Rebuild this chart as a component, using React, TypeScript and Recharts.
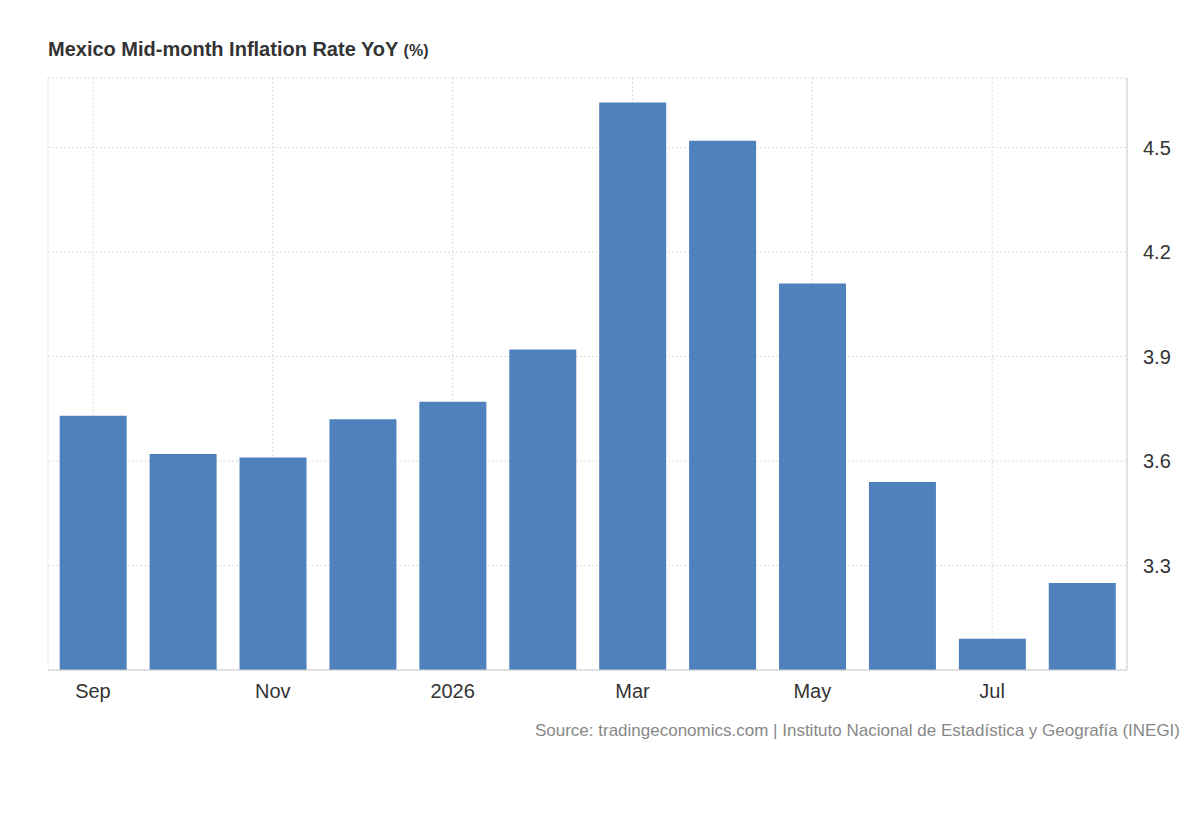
import { ComposedChart, Bar, XAxis, YAxis, CartesianGrid } from 'recharts';

const months = ['Sep', 'Oct', 'Nov', 'Dec', '2026', 'Feb', 'Mar', 'Apr', 'May', 'Jun', 'Jul', 'Aug'];
const values = [3.73, 3.62, 3.61, 3.72, 3.77, 3.92, 4.63, 4.52, 4.11, 3.54, 3.09, 3.25];
const xTicks = ['Sep', 'Nov', '2026', 'Mar', 'May', 'Jul'];
const yTicks = [3.3, 3.6, 3.9, 4.2, 4.5];

const data = months.map((m, i) => ({ month: m, value: values[i] }));

export default function App() {
  return (
    <div style={{ position: 'absolute', left: 0, top: 0, width: 1200, height: 820, background: '#fff', fontFamily: 'Arial, "Liberation Sans", sans-serif' }}>
      <div style={{ position: 'absolute', left: 48, top: 38, fontSize: 20, fontWeight: 'bold', color: '#333' }}>
        Mexico Mid-month Inflation Rate YoY <span style={{ fontSize: 16 }}>(%)</span>
      </div>
      <ComposedChart width={1200} height={720} data={data} margin={{ top: 78, left: 48, right: 0, bottom: 0 }} barCategoryGap="13%">
        <CartesianGrid stroke="#ddd" strokeDasharray="2 2" />
        <XAxis dataKey="month" ticks={xTicks} interval={0} height={50} tickLine={false}
          axisLine={{ stroke: '#ccc' }} tick={{ fontSize: 20, fill: '#333' }} tickMargin={8} />
        <YAxis orientation="right" domain={[3.0, 4.7]} ticks={yTicks} width={73} tickLine={false}
          axisLine={{ stroke: '#ccc' }} tick={{ fontSize: 20, fill: '#333', textAnchor: 'start' }} tickMargin={10} />
        <Bar dataKey="value" fill="#4f81bd" isAnimationActive={false} />
      </ComposedChart>
      <div style={{ position: 'absolute', right: 20, top: 721, fontSize: 17, color: '#888' }}>
        Source: tradingeconomics.com | Instituto Nacional de Estadística y Geografía (INEGI)
      </div>
    </div>
  );
}
